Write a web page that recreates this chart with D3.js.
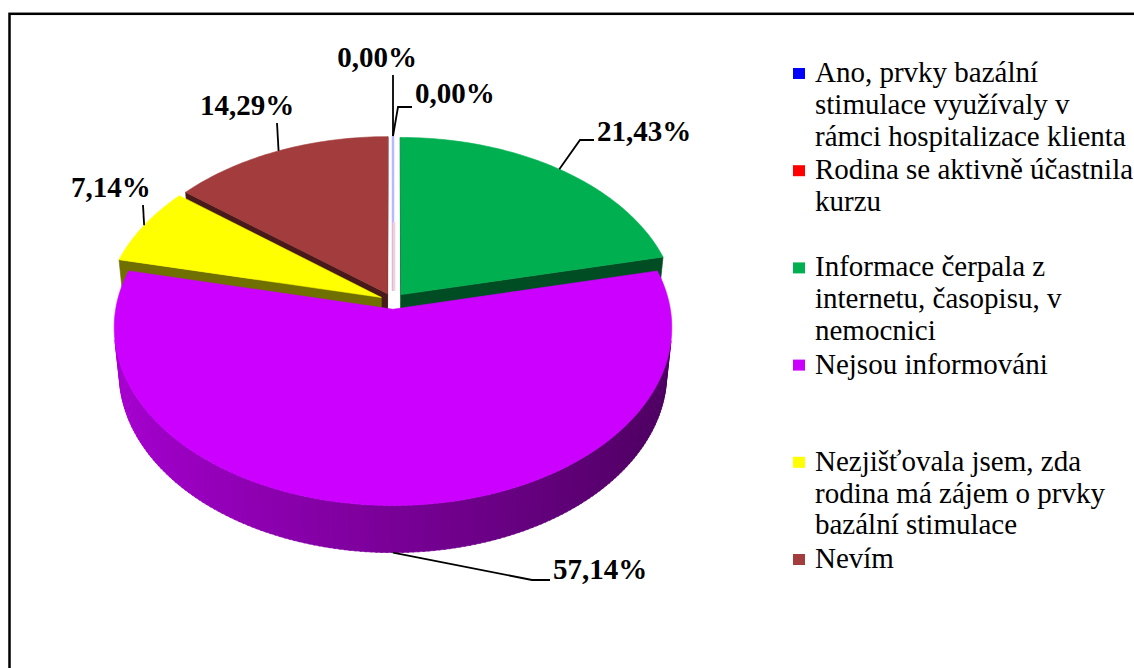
<!DOCTYPE html>
<html>
<head>
<meta charset="utf-8">
<script src="https://cdn.jsdelivr.net/npm/d3@7"></script>
<style>
  html, body { margin: 0; padding: 0; background: #fff; }
  svg { display: block; }
  text { font-family: "Liberation Serif", "Times New Roman", serif; }
</style>
</head>
<body>
<svg id="chart" width="1134" height="668"></svg>
<script>
const categories = [
  'Ano, prvky bazální stimulace využívaly v rámci hospitalizace klienta',
  'Rodina se aktivně účastnila kurzu',
  'Informace čerpala z internetu, časopisu, v nemocnici',
  'Nejsou informováni',
  'Nezjišťovala jsem, zda rodina má zájem o prvky bazální stimulace',
  'Nevím'
];
const values = [0.00, 0.00, 21.43, 57.14, 7.14, 14.29];
const colors = ['#0000ff', '#ff0000', '#00b050', '#cc00ff', '#ffff00', '#a33c3c'];

const svg = d3.select('#chart');

// chart frame (runs off the right/bottom edge like the original)
svg.append('rect')
  .attr('x', 9.5).attr('y', 13.8)
  .attr('width', 1200).attr('height', 700)
  .attr('fill', '#fff')
  .attr('stroke', '#000')
  .attr('stroke-width', 2.5);

// --- 3D pie projection ---
const cx = 393, cy = 301, R = 276;
const tilt = 39.2 * Math.PI / 180;
const camDist = 7.6;      // camera distance in radii
const thick = 0.218;      // pie height in radii
const explode = 0.047;
const cosT = Math.cos(tilt), sinT = Math.sin(tilt);
const cam = [0, camDist * sinT, -camDist * cosT];
const deg = Math.PI / 180;

function project(p) {
  const [x, h, z] = p;
  const v = h * cosT + z * sinT;
  const w = z * cosT - h * sinT;
  const s = camDist / (camDist + w);
  return [cx + x * s * R, cy - v * s * R, w];
}

const arcs = d3.pie().sort(null).value(d => d)(values);
const slices = arcs.map((p, i) => {
  const mid = (p.startAngle + p.endAngle) / 2;
  return {
    i, a0: p.startAngle, a1: p.endAngle, mid,
    ox: explode * Math.sin(mid), oz: explode * Math.cos(mid),
    color: colors[i]
  };
});

const pt = (s, r, a, h) => [s.ox + r * Math.sin(a), h, s.oz + r * Math.cos(a)];

function shade(color, f) {
  const c = d3.rgb(color);
  return d3.rgb(c.r * f, c.g * f, c.b * f).formatHex();
}

function facing(normal, p) {
  const d = [cam[0] - p[0], cam[1] - p[1], cam[2] - p[2]];
  return normal[0] * d[0] + normal[1] * d[1] + normal[2] * d[2] > 0;
}

const sides = [], tops = [];

slices.forEach(s => {
  if (s.a1 - s.a0 <= 0) return;
  const n = Math.max(2, Math.ceil((s.a1 - s.a0) / deg));
  const step = (s.a1 - s.a0) / n;

  // outer wall
  for (let k = 0; k < n; k++) {
    const a = s.a0 + k * step, b = a + step, m = (a + b) / 2;
    const c = pt(s, 1, m, -thick / 2);
    if (!facing([Math.sin(m), 0, Math.cos(m)], c)) continue;
    const t = (Math.sin(m) + 1) / 2;
    sides.push({
      pts: [pt(s, 1, a, 0), pt(s, 1, b + step * 0.3, 0), pt(s, 1, b + step * 0.3, -thick), pt(s, 1, a, -thick)],
      fill: shade(s.color, 0.82 - 0.45 * t)
    });
  }

  // cut faces
  const cuts = [
    { a: s.a0, normal: [-Math.cos(s.a0), 0, Math.sin(s.a0)] },
    { a: s.a1, normal: [Math.cos(s.a1), 0, -Math.sin(s.a1)] }
  ];
  cuts.forEach(cu => {
    const c = pt(s, 0.5, cu.a, -thick / 2);
    if (!facing(cu.normal, c)) return;
    sides.push({
      pts: [pt(s, 0, cu.a, 0), pt(s, 1, cu.a, 0), pt(s, 1, cu.a, -thick), pt(s, 0, cu.a, -thick)],
      fill: shade(s.color, 0.44)
    });
  });

  // top face
  const topPts = [pt(s, 0, s.a0, 0)];
  for (let k = 0; k <= n; k++) topPts.push(pt(s, 1, s.a0 + k * step, 0));
  tops.push({ pts: topPts, fill: s.color });
});

const line = d3.line().curve(d3.curveLinearClosed);

function drawFaces(list, cls) {
  list.forEach(f => {
    f.proj = f.pts.map(project);
    f.depth = d3.mean(f.proj, p => p[2]);
  });
  list.sort((a, b) => b.depth - a.depth);
  svg.append('g').attr('class', cls)
    .selectAll('path')
    .data(list)
    .join('path')
    .attr('d', f => line(f.proj.map(p => [p[0], p[1]])))
    .attr('fill', f => f.fill)
    .attr('stroke', f => f.fill)
    .attr('stroke-width', 0.6)
    .attr('stroke-linejoin', 'round');
}

drawFaces(sides, 'sides');
drawFaces(tops, 'tops');

// zero-value slices show up as thin light lines
slices.filter(s => s.a1 - s.a0 <= 0).forEach((s, k) => {
  const p0 = project(pt(s, 0, s.a0, 0));
  const p1 = project(pt(s, 1, s.a0, 0));
  const q0 = k === 0 ? p0 : [p0[0], p0[1]];
  const q1 = k === 0 ? p1 : [p0[0] + (p1[0] - p0[0]) * 0.45, p0[1] + (p1[1] - p0[1]) * 0.45];
  svg.append('line')
    .attr('x1', q0[0] + k).attr('y1', q0[1] - 2)
    .attr('x2', q1[0] + k).attr('y2', q1[1])
    .attr('stroke', d3.interpolateRgb(s.color, '#fff')(k === 0 ? 0.72 : 0.8))
    .attr('stroke-width', 2.5);
});

// --- data labels with leader lines ---
const fmt = v => v.toFixed(2).replace('.', ',') + '%';

function anchorOf(s) {
  const front = Math.cos(s.mid) < -0.5;
  const p = project(pt(s, 1, s.mid, front ? -thick : 0));
  return [p[0], p[1]];
}

const labelLayout = [
  { x: 377, y: 67,  anchor: 'middle', leader: [[393, 75]] },
  { x: 415, y: 103, anchor: 'start',  leader: [[398, 107], [412, 107]] },
  { x: 597, y: 141, anchor: 'start',  leader: [[580, 140], [594, 140]] },
  { x: 553, y: 579, anchor: 'start',  leader: [[532, 580], [550, 580]] },
  { x: 71,  y: 197, anchor: 'start',  leader: [[143, 205]] },
  { x: 200, y: 115, anchor: 'start',  leader: [[277, 123]] }
];

const labels = svg.append('g').attr('class', 'labels');
slices.forEach(s => {
  const lay = labelLayout[s.i];
  const a = anchorOf(s);
  const pts = [a].concat(lay.leader);
  labels.append('path')
    .attr('d', d3.line()(pts))
    .attr('fill', 'none')
    .attr('stroke', '#000')
    .attr('stroke-width', 1.8);
  labels.append('text')
    .attr('x', lay.x).attr('y', lay.y)
    .attr('text-anchor', lay.anchor)
    .attr('font-size', 29)
    .attr('font-weight', 'bold')
    .attr('fill', '#000')
    .text(fmt(values[s.i]));
});

// --- legend ---
const legend = svg.append('g').attr('class', 'legend');
const legendX = 793, legendY0 = 82, legendStep = 97.2, lineH = 31.8, wrapW = 319;

function wrap(str) {
  const probe = legend.append('text').attr('font-size', 29);
  const words = str.split(' ');
  const out = [];
  let cur = '';
  words.forEach(w => {
    const test = cur ? cur + ' ' + w : w;
    probe.text(test);
    if (cur && probe.node().getComputedTextLength() > wrapW) {
      out.push(cur);
      cur = w;
    } else {
      cur = test;
    }
  });
  out.push(cur);
  probe.remove();
  return out;
}

categories.forEach((c, i) => {
  const y = legendY0 + i * legendStep;
  legend.append('rect')
    .attr('x', legendX).attr('y', y - 14)
    .attr('width', 12).attr('height', 11)
    .attr('fill', colors[i]);
  const t = legend.append('text')
    .attr('x', legendX + 22).attr('y', y)
    .attr('font-size', 29)
    .attr('fill', '#000');
  wrap(c).forEach((ln, k) => {
    t.append('tspan')
      .attr('x', legendX + 22)
      .attr('y', y + k * lineH)
      .text(ln);
  });
});
</script>
</body>
</html>
